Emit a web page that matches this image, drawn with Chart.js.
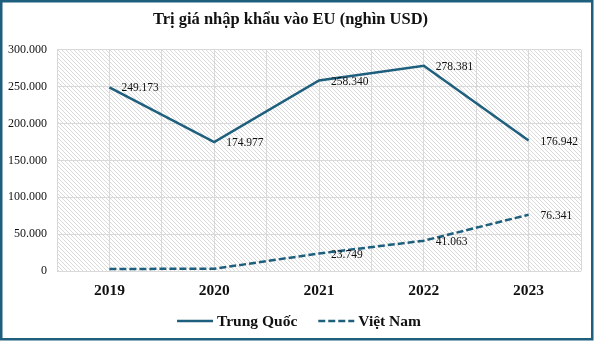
<!DOCTYPE html>
<html>
<head>
<meta charset="utf-8">
<script src="https://cdn.jsdelivr.net/npm/chart.js@4.4.1/dist/chart.umd.min.js"></script>
<style>
  html, body { margin: 0; padding: 0; background: #ffffff; }
  #wrap { position: relative; width: 596px; height: 341px; }
</style>
</head>
<body>
<div id="wrap"><canvas id="chart" width="596" height="341"></canvas></div>
<script>
// Import values into the EU, thousand USD
const years = ['2019', '2020', '2021', '2022', '2023'];
const trungQuoc = [249173, 174977, 258340, 278381, 176942];
const vietNam = [2800, 3000, 23749, 41063, 76341];
// Which points carry a value label
const vietNamLabelled = [false, false, true, true, true];
const yTicks = [0, 50000, 100000, 150000, 200000, 250000, 300000];

const LINE = '#1f5f7e';
const GRID = '#d9d9d9';
const SERIF = '"Liberation Serif", "Times New Roman", serif';

const fmt = v => Math.round(v).toLocaleString('de-DE');

// Diagonal hatch behind the plot area
function hatchPattern(ctx) {
  const c = document.createElement('canvas');
  c.width = 4; c.height = 4;
  const g = c.getContext('2d');
  g.strokeStyle = '#dadada';
  g.lineWidth = 1;
  g.beginPath();
  g.moveTo(-1, -1); g.lineTo(5, 5);
  g.moveTo(-1, 3); g.lineTo(1, 5);
  g.moveTo(3, -1); g.lineTo(5, 1);
  g.stroke();
  return ctx.createPattern(c, 'repeat');
}

const backdrop = {
  id: 'backdrop',
  beforeDraw(chart) {
    const {ctx, chartArea: a} = chart;
    ctx.save();
    ctx.fillStyle = '#ffffff';
    ctx.fillRect(0, 0, chart.width, chart.height);
    ctx.fillStyle = hatchPattern(ctx);
    ctx.fillRect(a.left, a.top, a.right - a.left, a.bottom - a.top);
    ctx.restore();
  },
  afterDraw(chart) {
    const {ctx} = chart;
    ctx.save();
    ctx.strokeStyle = LINE;
    ctx.lineWidth = 2.5;
    ctx.strokeRect(1.25, 1.25, 591, 338);
    ctx.restore();
  }
};

// Value labels to the right of each point
const valueLabels = {
  id: 'valueLabels',
  afterDatasetsDraw(chart) {
    const {ctx} = chart;
    ctx.save();
    ctx.font = '11.5px ' + SERIF;
    ctx.fillStyle = '#111111';
    ctx.textAlign = 'left';
    ctx.textBaseline = 'middle';
    chart.data.datasets.forEach((ds, di) => {
      const meta = chart.getDatasetMeta(di);
      meta.data.forEach((pt, i) => {
        if (ds.labelled && !ds.labelled[i]) return;
        ctx.fillText(fmt(ds.data[i]), pt.x + 12, pt.y + 1);
      });
    });
    ctx.restore();
  }
};

// Legend row under the axis: a line sample (solid or dashed) and the series name
const lineLegend = {
  id: 'lineLegend',
  afterDraw(chart) {
    const {ctx} = chart;
    const sample = 36, gapText = 4, gapItem = 21;
    const y = chart.height - 20;
    ctx.save();
    ctx.font = 'bold 15.5px ' + SERIF;
    const items = chart.data.datasets.map(ds => ({
      ds, w: sample + gapText + ctx.measureText(ds.label).width
    }));
    const total = items.reduce((s, it) => s + it.w, 0) + gapItem * (items.length - 1);
    let x = (chart.width - total) / 2 + 1;
    items.forEach(({ds, w}) => {
      ctx.strokeStyle = ds.borderColor;
      ctx.lineWidth = ds.borderWidth;
      ctx.setLineDash(ds.borderDash || []);
      ctx.beginPath();
      ctx.moveTo(x, y);
      ctx.lineTo(x + sample, y);
      ctx.stroke();
      ctx.setLineDash([]);
      ctx.fillStyle = '#111111';
      ctx.textAlign = 'left';
      ctx.textBaseline = 'middle';
      ctx.fillText(ds.label, x + sample + gapText, y + 1);
      x += w + gapItem;
    });
    ctx.restore();
  }
};

new Chart(document.getElementById('chart'), {
  type: 'line',
  data: {
    labels: years,
    datasets: [
      {
        label: 'Trung Quốc',
        data: trungQuoc,
        borderColor: LINE,
        backgroundColor: LINE,
        borderWidth: 2.5,
        pointRadius: 0,
        tension: 0,
        labelled: [true, true, true, true, true]
      },
      {
        label: 'Việt Nam',
        data: vietNam,
        borderColor: LINE,
        backgroundColor: LINE,
        borderWidth: 2.5,
        borderDash: [7, 3],
        pointRadius: 0,
        tension: 0,
        labelled: vietNamLabelled
      }
    ]
  },
  options: {
    responsive: false,
    animation: false,
    devicePixelRatio: 1,
    layout: { padding: { left: 0, right: 15, top: 0, bottom: 41 } },
    plugins: {
      title: {
        display: true,
        text: 'Trị giá nhập khẩu vào EU (nghìn USD)',
        color: '#111111',
        font: { family: SERIF, size: 16.5, weight: 'bold' },
        padding: { top: 10, bottom: 20 }
      },
      legend: { display: false },
      tooltip: { enabled: false }
    },
    scales: {
      x: {
        type: 'category',
        offset: true,
        grid: { display: false, drawTicks: false },
        border: { display: false },
        ticks: {
          color: '#111111',
          padding: 11,
          font: { family: SERIF, size: 15.5, weight: 'bold' }
        },
        afterFit(s) { s.height = 29; }
      },
      xg: {
        type: 'linear',
        position: 'bottom',
        min: 0,
        max: 10,
        ticks: { display: false, stepSize: 1 },
        grid: { color: GRID, drawTicks: false },
        border: { display: false },
        afterFit(s) { s.height = 0; }
      },
      y: {
        min: 0,
        max: 300000,
        afterBuildTicks(s) { s.ticks = yTicks.map(v => ({ value: v })); },
        ticks: {
          color: '#111111',
          padding: 10,
          font: { family: SERIF, size: 12 },
          callback: v => fmt(v)
        },
        grid: { color: GRID, drawTicks: false },
        border: { display: false },
        afterFit(s) { s.width = 57; }
      }
    }
  },
  plugins: [backdrop, valueLabels, lineLegend]
});
</script>
</body>
</html>
